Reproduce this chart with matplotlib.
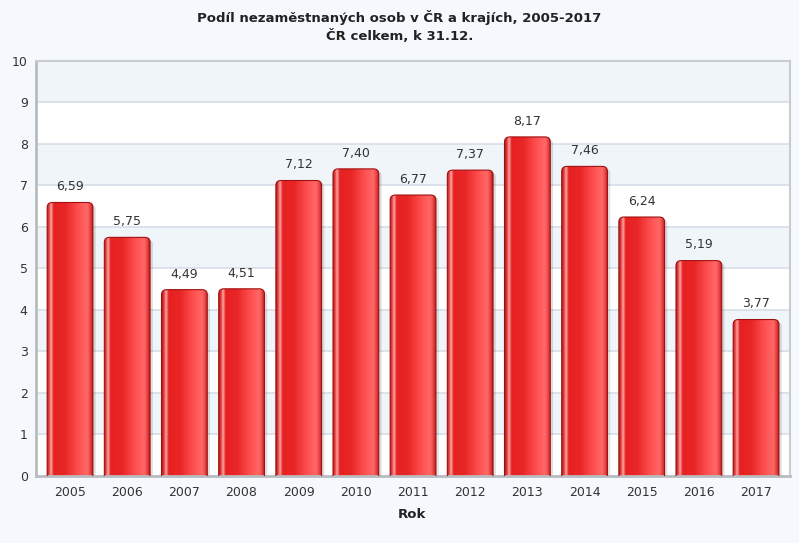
"""Podíl nezaměstnaných osob v ČR, 2005-2017 - sloupcový graf."""

import numpy as np
from matplotlib import pyplot as plt
from matplotlib.colors import LinearSegmentedColormap
from matplotlib.patches import FancyBboxPatch

years = ["2005", "2006", "2007", "2008", "2009", "2010", "2011",
         "2012", "2013", "2014", "2015", "2016", "2017"]
values = [6.59, 5.75, 4.49, 4.51, 7.12, 7.40, 6.77, 7.37, 8.17, 7.46, 6.24, 5.19, 3.77]
y_ticks = list(range(0, 11))

title = "Podíl nezaměstnaných osob v ČR a krajích, 2005-2017\nČR celkem, k 31.12."
x_label = "Rok"

bg = "#f5f9fd"
band = "#f0f5fa"

# horizontal gradient of a glossy red bar
bar_cmap = LinearSegmentedColormap.from_list("glossy", [
    (0.00, "#b51515"),
    (0.05, "#e84a4a"),
    (0.09, "#ffb0b0"),
    (0.14, "#e62020"),
    (0.40, "#e92626"),
    (0.70, "#ff5252"),
    (0.88, "#ff6868"),
    (0.96, "#e23a3a"),
    (1.00, "#a81212"),
])
grad = np.linspace(0, 1, 256).reshape(1, -1)

fig = plt.figure(figsize=(7.99, 5.43), dpi=100, facecolor=bg)
ax = fig.add_axes([0.0451, 0.1234, 0.9437, 0.7643])
ax.set_facecolor("white")

n = len(years)
ax.set_xlim(-0.595, n - 1 + 0.595)
ax.set_ylim(0, 10)

# alternating bands
for lo in y_ticks[1::2]:
    ax.axhspan(lo, lo + 1, color=band, zorder=0, lw=0)
for t in y_ticks[1:]:
    ax.axhline(t, color="#d6dee6", lw=1.2, zorder=0.5)

width = 0.8
for i, v in enumerate(values):
    x0 = i - width / 2
    box = FancyBboxPatch((x0, -0.3), width, v + 0.3,
                         boxstyle="round,pad=0,rounding_size=0.09",
                         mutation_aspect=1.35, transform=ax.transData,
                         facecolor="none", edgecolor="#a01010", lw=0.8, zorder=3)
    # shadow
    shadow = FancyBboxPatch((x0 + 0.05, -0.3), width, v + 0.3 - 0.05,
                            boxstyle="round,pad=0,rounding_size=0.09",
                            mutation_aspect=1.35, facecolor="#000000",
                            alpha=0.12, lw=0, zorder=1.5)
    ax.add_patch(shadow)
    im = ax.imshow(grad, cmap=bar_cmap, aspect="auto", extent=(x0, x0 + width, -0.3, v),
                   interpolation="bicubic", zorder=2)
    ax.add_patch(box)
    im.set_clip_path(box)
    ax.text(i, v + 0.22, f"{v:.2f}".replace(".", ","), ha="center", va="bottom",
            fontsize=9, color="#333333", zorder=4)

ax.set_xticks(range(n))
ax.set_xticklabels(years)
ax.set_yticks(y_ticks)
ax.tick_params(axis="both", length=0, labelsize=9, labelcolor="#333333")
ax.tick_params(axis="x", pad=7)
ax.tick_params(axis="y", pad=6)

for side in ["top", "right"]:
    ax.spines[side].set_color("#c8ccd0")
    ax.spines[side].set_linewidth(1.5)
for side in ["left", "bottom"]:
    ax.spines[side].set_color("#b8bcc0")
    ax.spines[side].set_linewidth(2)

fig.text(0.5, 0.951, title, ha="center", va="center", fontsize=9.5,
         fontweight="bold", color="#222222", linespacing=1.4)
fig.text(0.516, 0.052, x_label, ha="center", va="center", fontsize=9.5,
         fontweight="bold", color="#222222")

fig.savefig("out.png", dpi=100, facecolor=bg)
